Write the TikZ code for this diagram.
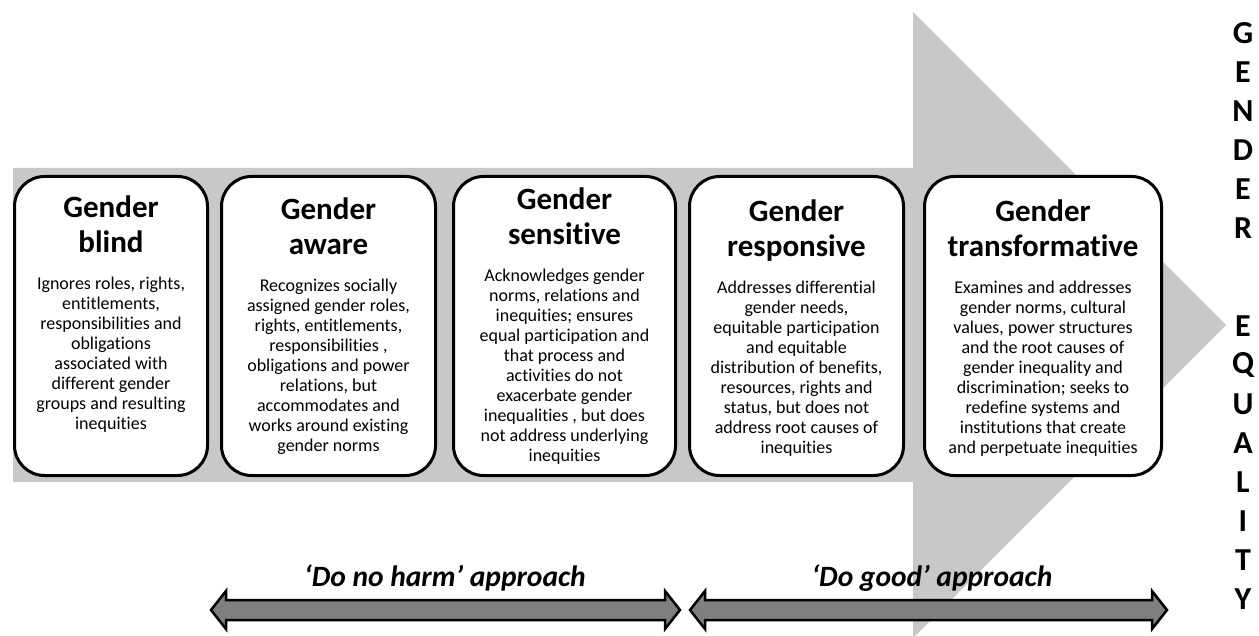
\documentclass[tikz,border=0pt]{standalone}
\usepackage{fontspec}
\setmainfont[Ligatures=NoCommon]{Carlito}
\usetikzlibrary{positioning}
\definecolor{bandgrey}{RGB}{200,200,200}
\definecolor{arrowgrey}{RGB}{127,127,127}
\tikzset{
  stage/.style={draw,line width=3pt,rounded corners=30pt,fill=white,minimum height=299pt,inner sep=0pt},
  stagetitle/.style={anchor=north,align=center,inner sep=0pt,font=\fontsize{31}{35}\selectfont\bfseries},
  stagetext/.style={anchor=north,align=center,inner sep=0pt,font=\fontsize{18}{20}\selectfont},
  approach/.style={draw,line width=2.5pt,fill=arrowgrey,line join=miter},
  approachlabel/.style={font=\fontsize{29.5}{32}\selectfont\bfseries\itshape},
  eqletter/.style={font=\fontsize{32}{34}\selectfont\bfseries}
}
\begin{document}
\begin{tikzpicture}[x=1pt,y=-1pt,line join=round]
\useasboundingbox (0,0) rectangle (1259,636);
\fill[bandgrey] (13,168)--(913,168)--(913,12)--(1226,325)--(913,638)--(913,482)--(13,482)--cycle;
\foreach \cx/\w/\ty/\head/\desc [count=\i] in {
  111/193/196/{Gender\\blind}/{Ignores roles, rights,\\entitlements,\\responsibilities and\\obligations\\associated with\\different gender\\groups and resulting\\inequities},
  328.5/214/198/{Gender\\aware}/{Recognizes socially\\assigned gender roles,\\rights, entitlements,\\responsibilities ,\\obligations and power\\relations, but\\accommodates and\\works around existing\\gender norms},
  564.5/222/188/{Gender\\sensitive}/{Acknowledges gender\\norms, relations and\\inequities; ensures\\equal participation and\\that process and\\activities do not\\exacerbate gender\\inequalities , but does\\not address underlying\\inequities},
  796.5/214/200/{Gender\\responsive}/{Addresses differential\\gender needs,\\equitable participation\\and equitable\\distribution of benefits,\\resources, rights and\\status, but does not\\address root causes of\\inequities},
  1043/237/200/{Gender\\transformative}/{Examines and addresses\\gender norms, cultural\\values, power structures\\and the root causes of\\gender inequality and\\discrimination; seeks to\\redefine systems and\\institutions that create\\and perpetuate inequities}}
  {
    \node[stage,minimum width=\w] (box\i) at (\cx,326) {};
    \node[stagetitle] (title\i) at (\cx,\ty) {\head};
    \node[stagetext] (text\i) at (\cx,\ty+81) {\desc};
  }
\node[approachlabel] (harm) at (445,578) {‘Do no harm’ approach};
\node[approachlabel] (good) at (932,578) {‘Do good’ approach};
\foreach \xa/\xb in {211/680,690/1167}
  \draw[approach] (\xa,610)--(\xa+15,591)--(\xa+15,600)--(\xb-15,600)--(\xb-15,591)--(\xb,610)--(\xb-15,629)--(\xb-15,620)--(\xa+15,620)--(\xa+15,629)--cycle;
\foreach \l/\y [count=\k] in {G/33,E/72,N/111,D/150,E/189,R/228,E/326,Q/365,U/404,A/443,L/482,I/521,T/560,Y/599}
  \node[eqletter] (letter\k) at (1243,\y) {\l};
\end{tikzpicture}
\end{document}
